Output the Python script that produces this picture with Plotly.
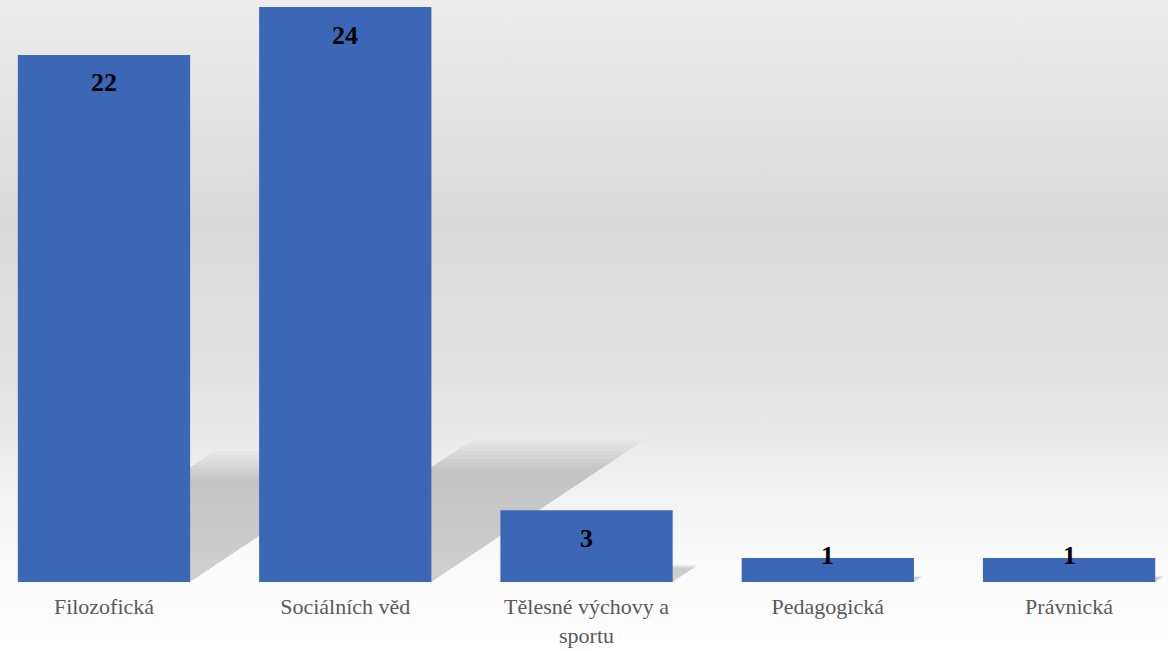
import base64
import plotly.graph_objects as go

categories = ["Filozofická", "Sociálních věd", "Tělesné výchovy a<br>sportu", "Pedagogická", "Právnická"]
values = [22, 24, 3, 1, 1]

W, H = 1168, 651
ML, MR, MT, MB = 0, 0, 7, 69
plot_h = H - MT - MB
y_max = 24

# background gradient as svg data uri
stops = [(0, "#ededed"), (0.34, "#d9d9d9"), (0.58, "#e2e2e2"), (0.74, "#f0f0f0"), (0.86, "#fafafa"), (1, "#ffffff")]
stop_xml = "".join(f'<stop offset="{o}" stop-color="{c}"/>' for o, c in stops)
svg = (f'<svg xmlns="http://www.w3.org/2000/svg" width="{W}" height="{H}" viewBox="0 0 {W} {H}" preserveAspectRatio="none">'
       f'<defs><linearGradient id="g" x1="0" y1="0" x2="0" y2="1">{stop_xml}</linearGradient></defs>'
       f'<rect x="0" y="0" width="{W}" height="{H}" fill="url(#g)"/></svg>')
src = "data:image/svg+xml;base64," + base64.b64encode(svg.encode()).decode()

fig = go.Figure()
fig.add_trace(go.Bar(
    x=categories, y=values, width=0.714,
    marker=dict(color="#3c66b6", line=dict(width=0)),
    hoverinfo="x+y",
))

# category geometry in axis units
x_lo, x_hi = -0.431, 4.410
px_per_unit_x = W / (x_hi - x_lo)
px_per_unit_y = plot_h / y_max
hw = 0.714 / 2

shapes = []
layers = [0.84, 0.87, 0.9, 0.93, 0.96, 0.99, 1.02, 1.05, 1.08]
for i, v in enumerate(values):
    for hf in layers:
        h = 0.23 * v * hf
        s = 1.5 * h * px_per_unit_y / px_per_unit_x
        path = (f"M {i-hw},0 L {i+hw},0 L {i+hw+s},{h} L {i-hw+s},{h} Z")
        shapes.append(dict(type="path", path=path, xref="x", yref="y", layer="below",
                           fillcolor="rgba(0,0,0,0.02)", line=dict(width=0)))

annotations = []
for c, v in zip(categories, values):
    annotations.append(dict(
        x=c, y=v, xref="x", yref="y", text=f"<b>{v}</b>", showarrow=False,
        yanchor="middle", yshift=-28 if v * px_per_unit_y >= 40 else 3,
        font=dict(family="Liberation Serif", size=26, color="#000000"),
    ))

fig.update_layout(
    width=W, height=H,
    margin=dict(l=ML, r=MR, t=MT, b=MB, pad=0),
    paper_bgcolor="rgba(0,0,0,0)", plot_bgcolor="rgba(0,0,0,0)",
    showlegend=False,
    bargap=0.286,
    images=[dict(source=src, xref="paper", yref="paper", x=0, y=1 + MT / plot_h,
                 sizex=1, sizey=H / plot_h, sizing="stretch", xanchor="left", yanchor="top",
                 layer="below")],
    shapes=shapes,
    annotations=annotations,
    xaxis=dict(range=[x_lo, x_hi], showgrid=False, zeroline=False, showline=False,
               ticks="outside", ticklen=5, tickcolor="rgba(0,0,0,0)", automargin=False,
               tickfont=dict(family="Liberation Serif", size=22, color="#595959"),
               fixedrange=True),
    yaxis=dict(range=[0, y_max], showgrid=False, zeroline=False, showline=False,
               showticklabels=False, fixedrange=True, automargin=False),
)

fig.write_html("out.html", config={"displayModeBar": False},
               post_script="document.body.style.margin='0';document.body.style.overflow='hidden';")
